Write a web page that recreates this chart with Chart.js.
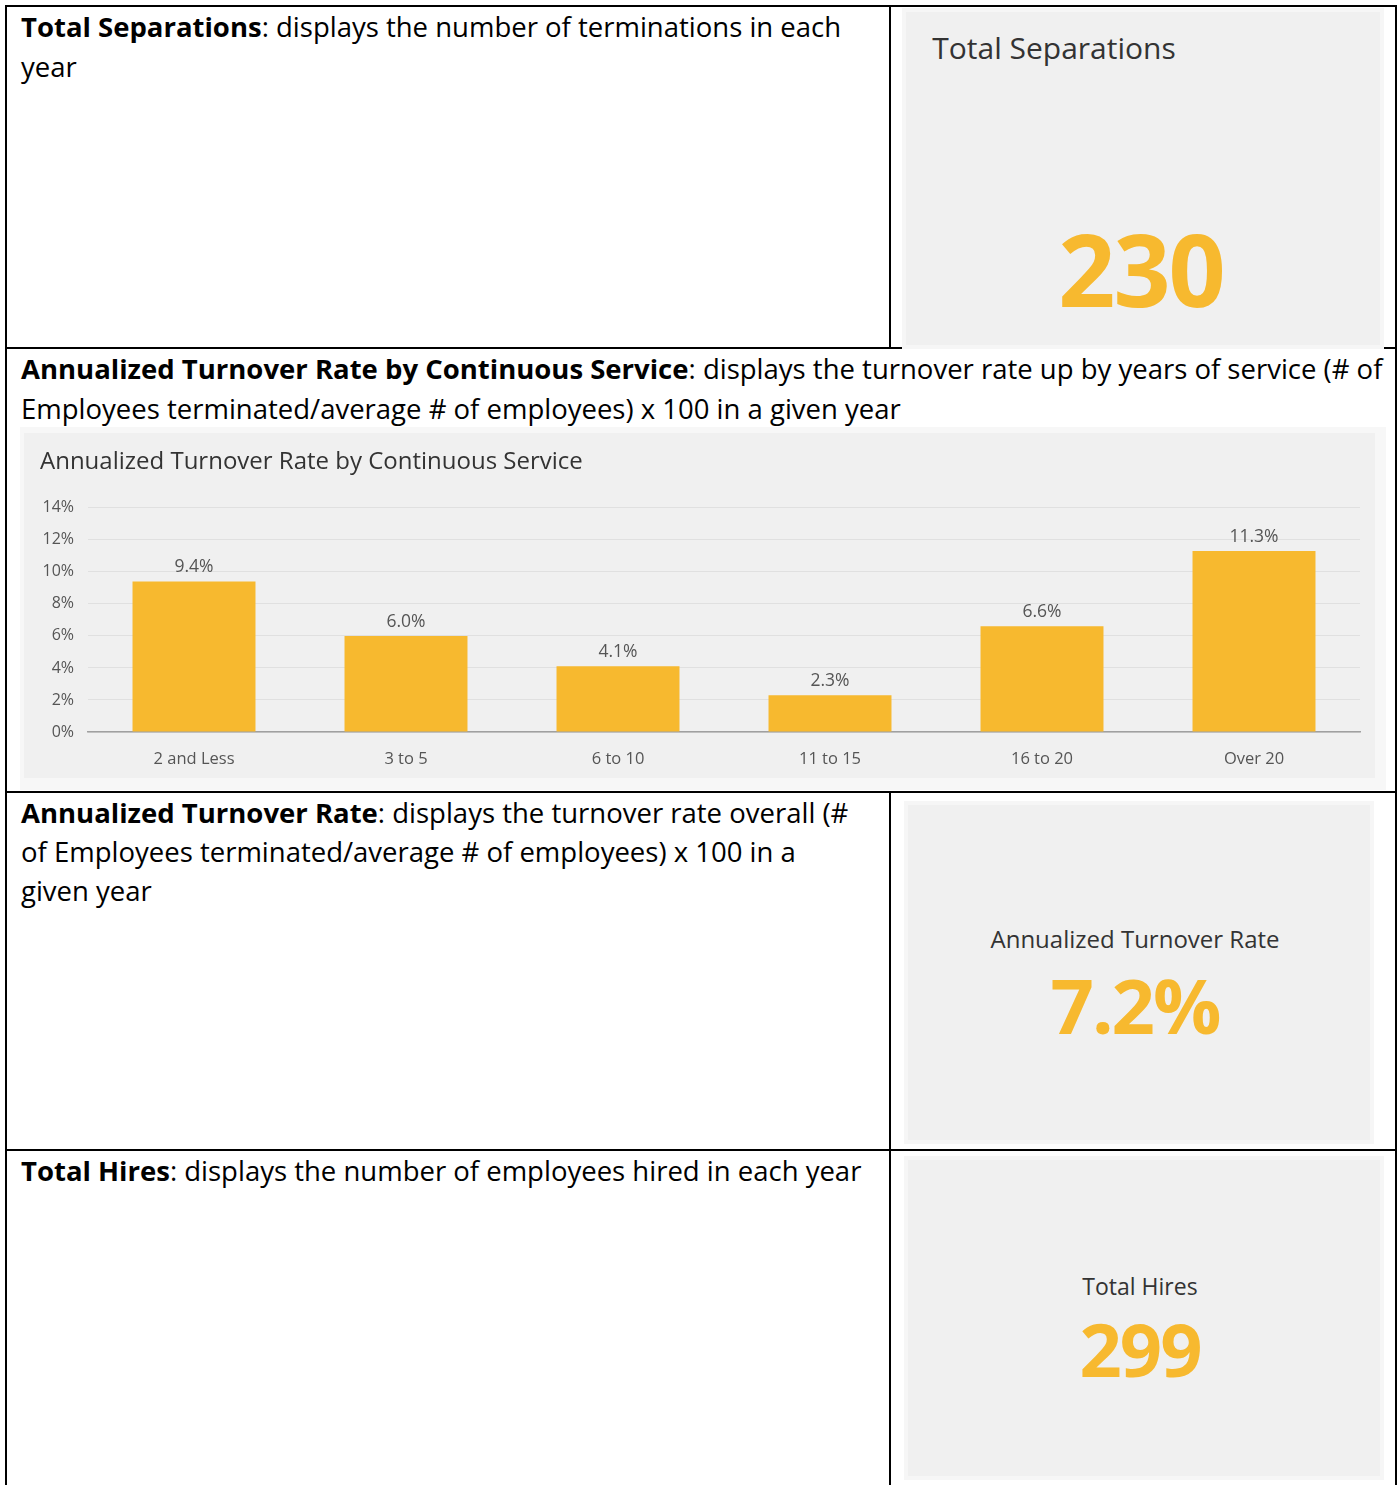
<!DOCTYPE html>
<html>
<head>
<meta charset="utf-8">
<script src="https://cdn.jsdelivr.net/npm/chart.js@4/dist/chart.umd.min.js"></script>
<style>
  html, body { margin: 0; padding: 0; background: #fff; }
  body { width: 1399px; height: 1485px; position: relative; overflow: hidden; font-family: "Open Sans", sans-serif; }
  .ln { position: absolute; background: #000; }
  .txt { position: absolute; left: 21px; font-size: 27.5px; line-height: 40px; color: #000; white-space: nowrap; font-family: "Open Sans", sans-serif; letter-spacing: 0; }
  .txt b { font-weight: 700; }
  .panel { position: absolute; background: #f0f0f0; box-shadow: 0 0 0 4px #f6f6f6; }
  .kt { position: absolute; font-family: "Open Sans", sans-serif; color: #333; white-space: nowrap; transform: translate(-50%, -50%); }
  .kv { position: absolute; font-family: "Open Sans", sans-serif; color: #F7B92F; font-weight: 700; white-space: nowrap; transform: translate(-50%, -50%); letter-spacing: -2px; }
  #chartOuter { position: absolute; left: 20px; top: 427px; width: 1366px; height: 363px; background: #f7f7f7; }
  #chartBox { position: absolute; left: 24px; top: 433px; width: 1351px; height: 345px; background: #f0f0f0; }
</style>
</head>
<body>
<!-- table borders -->
<div class="ln" style="left:5px;top:5px;width:1392px;height:2px"></div>
<div class="ln" style="left:5px;top:5px;width:2px;height:1480px"></div>
<div class="ln" style="left:1395px;top:5px;width:2px;height:1480px"></div>
<div class="ln" style="left:5px;top:347px;width:1392px;height:2px"></div>
<div class="ln" style="left:5px;top:791px;width:1392px;height:2px"></div>
<div class="ln" style="left:5px;top:1149px;width:1392px;height:2px"></div>
<div class="ln" style="left:889px;top:5px;width:2px;height:343px"></div>
<div class="ln" style="left:889px;top:791px;width:2px;height:694px"></div>

<!-- row 1 -->
<div class="txt" style="top:7px"><b>Total Separations</b>: displays the number of terminations in each<br>year</div>
<div class="panel" style="left:906px;top:12px;width:474px;height:333px"></div>
<div class="kt" style="left:1054px;top:47px;font-size:30px">Total Separations</div>
<div class="kv" style="left:1141px;top:268px;font-size:100px">230</div>

<!-- row 2 -->
<div class="txt" style="top:349px"><b>Annualized Turnover Rate by Continuous Service</b>: displays the turnover rate up by years of service (# of<br>Employees terminated/average # of employees) x 100 in a given year</div>
<div id="chartOuter"></div>
<div id="chartBox"><canvas id="c"></canvas></div>

<!-- row 3 -->
<div class="txt" style="top:793px;line-height:39px"><b>Annualized Turnover Rate</b>: displays the turnover rate overall (#<br>of Employees terminated/average # of employees) x 100 in a<br>given year</div>
<div class="panel" style="left:908px;top:805px;width:462px;height:335px"></div>
<div class="kt" style="left:1135px;top:938px;font-size:24px">Annualized Turnover Rate</div>
<div class="kv" style="left:1135px;top:1004px;font-size:76px">7.2%</div>

<!-- row 4 -->
<div class="txt" style="top:1151px"><b>Total Hires</b>: displays the number of employees hired in each year</div>
<div class="panel" style="left:908px;top:1160px;width:472px;height:316px"></div>
<div class="kt" style="left:1140px;top:1286px;font-size:23px">Total Hires</div>
<div class="kv" style="left:1140px;top:1348px;font-size:74px">299</div>

<script>
const chartTitle = 'Annualized Turnover Rate by Continuous Service';
const serviceCategories = ['2 and Less', '3 to 5', '6 to 10', '11 to 15', '16 to 20', 'Over 20'];
const turnoverRates = [9.4, 6.0, 4.1, 2.3, 6.6, 11.3];
const yAxisMax = 14;
const yAxisStep = 2;

const barLabels = {
  id: 'barLabels',
  afterDatasetsDraw(chart) {
    const ctx = chart.ctx;
    const meta = chart.getDatasetMeta(0);
    ctx.save();
    ctx.font = '17.5px "Open Sans", sans-serif';
    ctx.fillStyle = '#555';
    ctx.textAlign = 'center';
    ctx.textBaseline = 'middle';
    meta.data.forEach((bar, i) => {
      ctx.fillText(turnoverRates[i].toFixed(1) + '%', bar.x, bar.y - 14);
    });
    ctx.restore();
  }
};

new Chart(document.getElementById('c'), {
  type: 'bar',
  data: {
    labels: serviceCategories,
    datasets: [{
      data: turnoverRates,
      backgroundColor: '#F7B92F',
      categoryPercentage: 0.58,
      barPercentage: 1.0
    }]
  },
  plugins: [barLabels],
  options: {
    responsive: true,
    maintainAspectRatio: false,
    animation: false,
    layout: { padding: { left: 16, right: 15, top: 0, bottom: 10 } },
    plugins: {
      legend: { display: false },
      tooltip: { enabled: false },
      title: {
        display: true,
        text: chartTitle,
        align: 'start',
        color: '#333',
        font: { family: '"Open Sans", sans-serif', size: 24, weight: 'normal' },
        padding: { top: 15, bottom: 31 }
      }
    },
    scales: {
      y: {
        min: 0,
        max: yAxisMax,
        ticks: {
          stepSize: yAxisStep,
          callback: v => v + '%',
          color: '#555',
          font: { family: '"Open Sans", sans-serif', size: 16 },
          padding: 14
        },
        grid: { color: '#e0e0e0', drawTicks: false },
        border: { display: false },
        afterFit: s => { s.width = 48; }
      },
      x: {
        grid: { display: false, drawTicks: false },
        border: { color: '#a0a0a0', width: 1.5 },
        ticks: {
          color: '#555',
          font: { family: '"Open Sans", sans-serif', size: 16.5 },
          padding: 17
        },
        afterFit: s => { s.height = 36; }
      }
    }
  }
});
</script>
</body>
</html>
